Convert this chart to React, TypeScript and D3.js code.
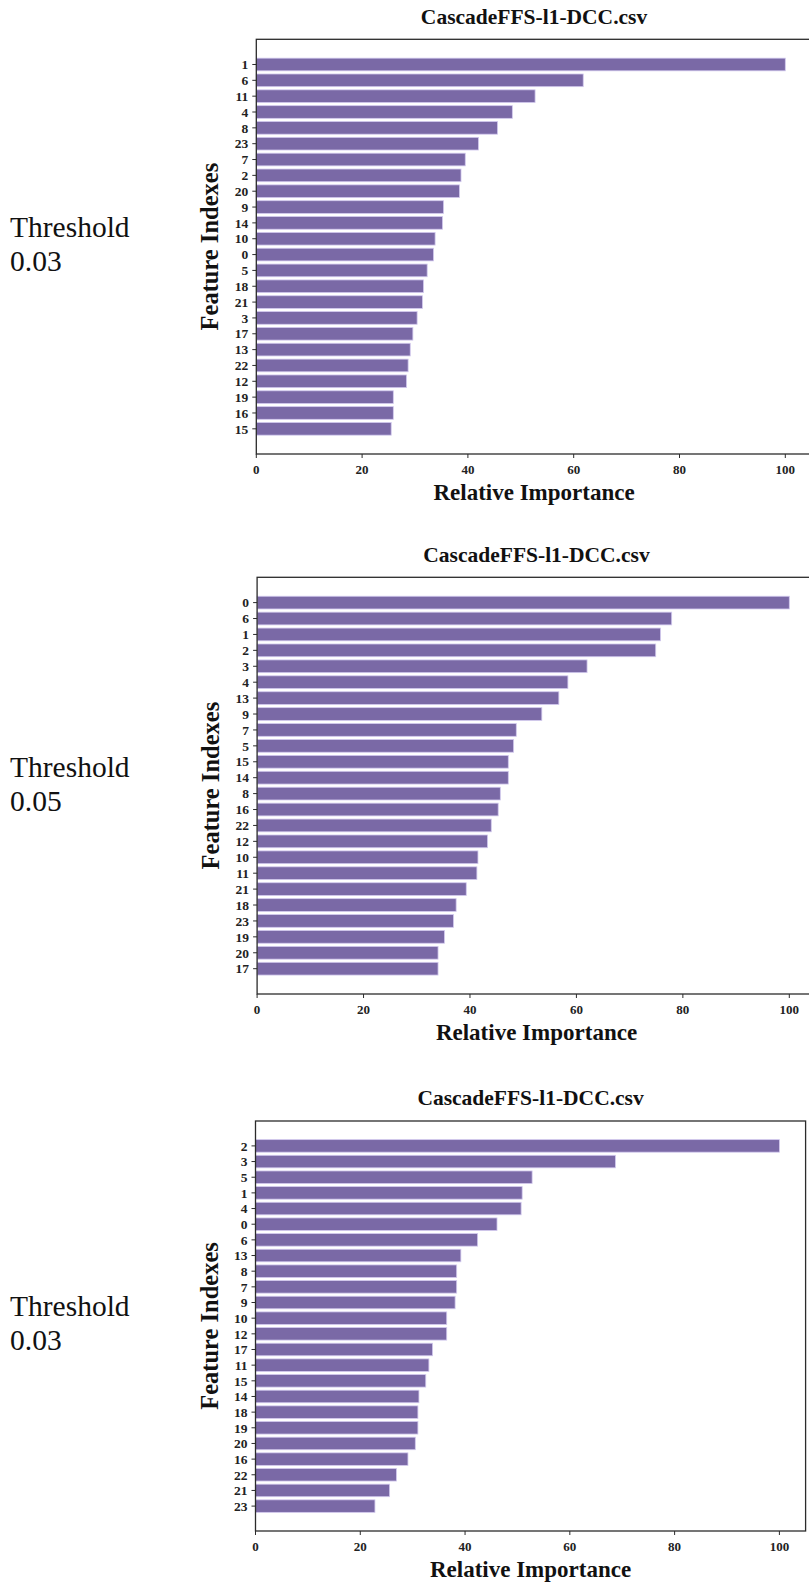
import React from "react";
import * as d3 from "d3";

// Feature rankings (relative importance, top feature = 100)
const panel1Features = ["1", "6", "11", "4", "8", "23", "7", "2", "20", "9", "14", "10", "0", "5", "18", "21", "3", "17", "13", "22", "12", "19", "16", "15"];
const panel1Values = [100, 61.8, 52.7, 48.4, 45.6, 42.0, 39.5, 38.7, 38.4, 35.4, 35.2, 33.8, 33.5, 32.3, 31.6, 31.4, 30.4, 29.6, 29.1, 28.7, 28.4, 25.9, 25.9, 25.5];

const panel2Features = ["0", "6", "1", "2", "3", "4", "13", "9", "7", "5", "15", "14", "8", "16", "22", "12", "10", "11", "21", "18", "23", "19", "20", "17"];
const panel2Values = [100, 77.9, 75.8, 74.9, 62.0, 58.4, 56.7, 53.5, 48.7, 48.2, 47.2, 47.2, 45.7, 45.3, 44.0, 43.3, 41.5, 41.3, 39.3, 37.4, 36.9, 35.2, 34.0, 34.0];

const panel3Features = ["2", "3", "5", "1", "4", "0", "6", "13", "8", "7", "9", "10", "12", "17", "11", "15", "14", "18", "19", "20", "16", "22", "21", "23"];
const panel3Values = [100, 68.7, 52.8, 50.9, 50.7, 46.1, 42.4, 39.2, 38.4, 38.4, 38.1, 36.5, 36.5, 33.8, 33.1, 32.5, 31.2, 31.0, 31.0, 30.5, 29.1, 26.9, 25.6, 22.8];

const xTicks = [0, 20, 40, 60, 80, 100];
const thresholds = ["0.03", "0.05", "0.03"];
const chartTitle = "CascadeFFS-l1-DCC.csv";
const xAxisLabel = "Relative Importance";
const yAxisLabel = "Feature Indexes";

const BAR_FILL = "#7a69a6";
const BAR_EDGE = "#d2c9ee";
const AXIS = "#2b2b2b";
const SERIF = "'Liberation Serif', 'Times New Roman', serif";

type PanelProps = {
  features: string[];
  values: number[];
  threshold: string;
  left: number;
  x100: number;
  top: number;
  bottom: number;
  titleY: number;
  thresholdY: number;
};

function Panel({ features, values, threshold, left, x100, top, bottom, titleY, thresholdY }: PanelProps) {
  const pxPerUnit = (x100 - left) / 100;
  const x = d3.scaleLinear().domain([0, 105]).range([left, left + 105 * pxPerUnit]);
  const n = features.length;
  const pad = 1.59;
  const y = d3.scaleLinear().domain([-pad, n - 1 + pad]).range([top, bottom]);
  const step = y(1) - y(0);
  const barH = step * 0.8;
  const right = x(105);
  const cx = (left + right) / 2;
  const cy = (top + bottom) / 2;

  return (
    <g>
      <text x={10} y={thresholdY} fontFamily={SERIF} fontSize={29.5} fill="#111">Threshold</text>
      <text x={10} y={thresholdY + 34} fontFamily={SERIF} fontSize={29.5} fill="#111">{threshold}</text>

      <text x={cx} y={titleY} textAnchor="middle" fontFamily={SERIF} fontWeight="bold" fontSize={21.5} fill="#111">
        {chartTitle}
      </text>

      {values.map((v, i) => (
        <rect
          key={features[i]}
          x={x(0)}
          y={y(i) - barH / 2}
          width={x(v) - x(0)}
          height={barH}
          fill={BAR_FILL}
          stroke={BAR_EDGE}
          strokeWidth={0.8}
        />
      ))}

      {/* frame */}
      <rect x={left} y={top} width={right - left} height={bottom - top} fill="none" stroke={AXIS} strokeWidth={1.3} />

      {/* y ticks */}
      {features.map((f, i) => (
        <g key={"yt" + f}>
          <line x1={left - 4} x2={left} y1={y(i)} y2={y(i)} stroke={AXIS} strokeWidth={1} />
          <text x={left - 8} y={y(i)} dy="0.35em" textAnchor="end" fontFamily={SERIF} fontWeight="bold" fontSize={13.5} fill="#222">
            {f}
          </text>
        </g>
      ))}

      {/* x ticks */}
      {xTicks.map((t) => (
        <g key={"xt" + t}>
          <line x1={x(t)} x2={x(t)} y1={bottom} y2={bottom + 4} stroke={AXIS} strokeWidth={1} />
          <text x={x(t)} y={bottom + 20} textAnchor="middle" fontFamily={SERIF} fontWeight="bold" fontSize={13} fill="#222">
            {t}
          </text>
        </g>
      ))}

      <text x={cx} y={bottom + 46} textAnchor="middle" fontFamily={SERIF} fontWeight="bold" fontSize={23} fill="#111">
        {xAxisLabel}
      </text>
      <text
        transform={`translate(${left - 38},${cy}) rotate(-90)`}
        textAnchor="middle"
        fontFamily={SERIF}
        fontWeight="bold"
        fontSize={24.5}
        fill="#111"
      >
        {yAxisLabel}
      </text>
    </g>
  );
}

export default function App() {
  return (
    <svg
      width={809}
      height={1583}
      style={{ position: "absolute", left: 0, top: 0, background: "#fff" }}
    >
      <rect width={809} height={1583} fill="#fff" />
      <Panel
        features={panel1Features}
        values={panel1Values}
        threshold={thresholds[0]}
        left={256.3}
        x100={785.3}
        top={39.3}
        bottom={454}
        titleY={24}
        thresholdY={236.7}
      />
      <Panel
        features={panel2Features}
        values={panel2Values}
        threshold={thresholds[1]}
        left={257.1}
        x100={789.3}
        top={577.3}
        bottom={994}
        titleY={562.3}
        thresholdY={777.3}
      />
      <Panel
        features={panel3Features}
        values={panel3Values}
        threshold={thresholds[2]}
        left={255.5}
        x100={779.4}
        top={1121}
        bottom={1531}
        titleY={1105}
        thresholdY={1316.3}
      />
    </svg>
  );
}
